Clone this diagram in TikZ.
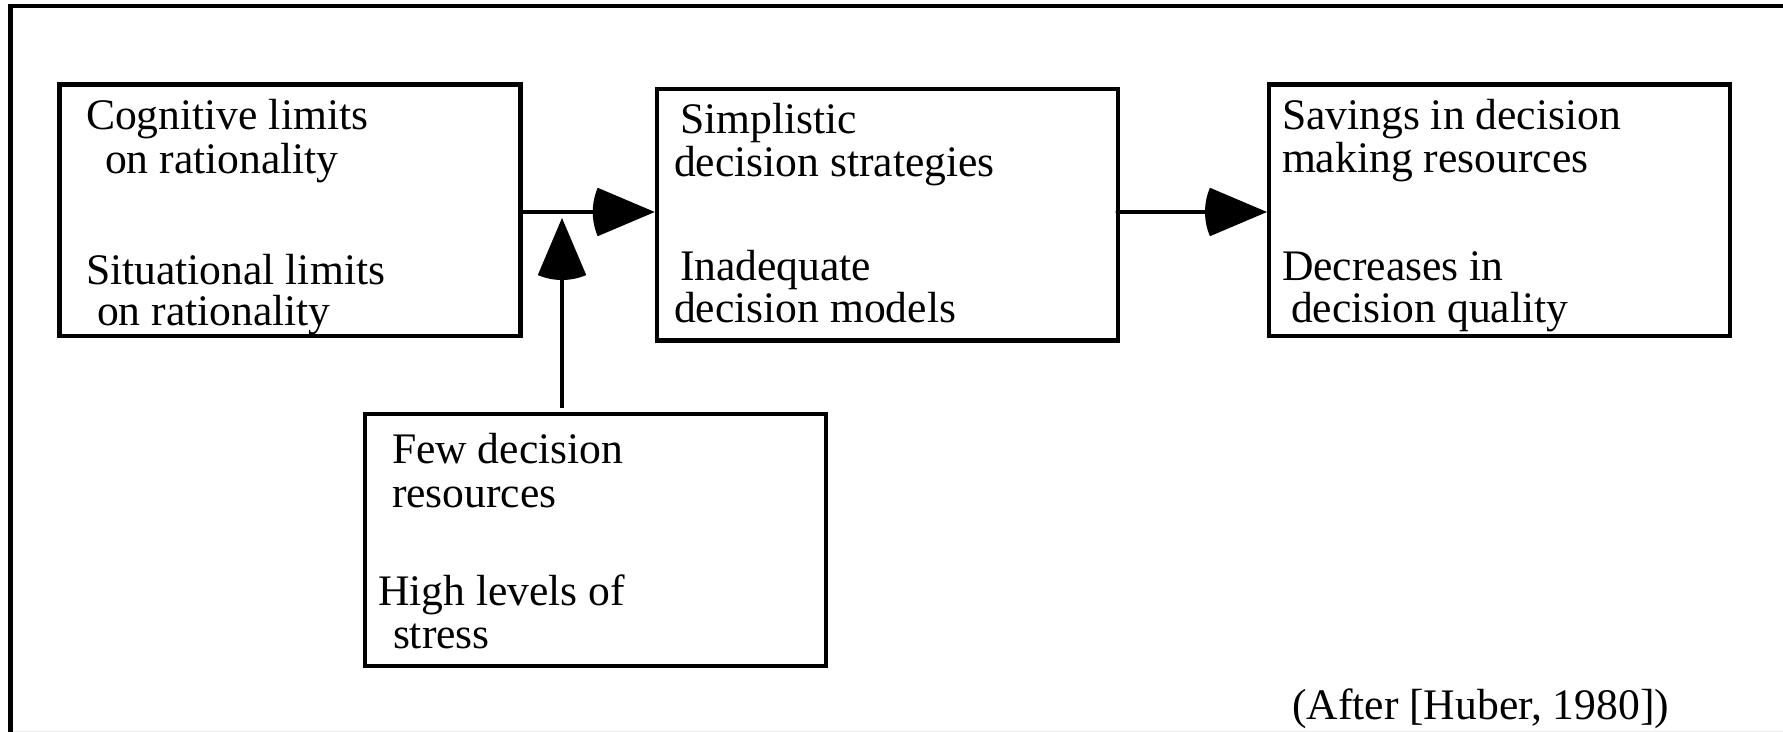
\documentclass[tikz,border=0pt]{standalone}
\usepackage{fontspec}
\setmainfont{Liberation Serif}
\usetikzlibrary{calc,arrows.meta}
\pgfdeclarearrow{
  name = Sector,
  parameters = {\the\pgfarrowlength},
  setup code = {
    \pgfarrowssettipend{0pt}
    \pgfarrowssetlineend{-0.6\pgfarrowlength}
    \pgfarrowssetbackend{-\pgfarrowlength}
    \pgfarrowssavethe\pgfarrowlength
  },
  drawing code = {
    \pgfpathmoveto{\pgfpointorigin}
    \pgfpathlineto{\pgfpointpolar{157}{\pgfarrowlength}}
    \pgfpatharc{157}{203}{\pgfarrowlength}
    \pgfpathclose
    \pgfusepathqfill
  },
  defaults = {length = 31pt}
}
\tikzset{
  box/.style={draw, line width=2.25pt, rectangle, inner sep=0pt, outer sep=0pt,
    minimum width=230.5pt, minimum height=125.75pt},
  lbl/.style={anchor=base west, inner sep=0pt, outer sep=0pt,
    font=\fontsize{21.8}{22}\selectfont},
  conn/.style={line width=2.3pt, line cap=round, -Sector},
  frameline/.style={line width=2.25pt},
}
\begin{document}
\begin{tikzpicture}[x=0.5pt,y=-0.5pt]
\useasboundingbox (0,0) rectangle (1783,732);
% outer frame (partly visible)
\draw[frameline] (10.5,740) -- (10.5,6) -- (1790,6);
\draw[black!8, line width=0.5pt] (13,731.6) -- (1790,731.6);

% boxes
\node[box] (box1) at (290,210.5) {};
\node[box] (box2) at (887.25,215) {};
\node[box] (box3) at (1499.5,210.5) {};
\node[box] (box4) at (595.5,540) {};

% texts box1
\node[lbl] (t1a) at (86,130) {Cognitive limits};
\node[lbl] (t1b) at (105,174) {on rationality};
\node[lbl] (t1c) at (86,285) {Situational limits};
\node[lbl] (t1d) at (97,326) {on rationality};
% texts box2
\node[lbl] (t2a) at (680,134) {Simplistic};
\node[lbl] (t2b) at (674,177) {decision strategies};
\node[lbl] (t2c) at (680,281) {Inadequate};
\node[lbl] (t2d) at (674,323) {decision models};
% texts box3
\node[lbl] (t3a) at (1282,130) {Savings in decision};
\node[lbl] (t3b) at (1282,173) {making resources};
\node[lbl] (t3c) at (1282,281) {Decreases in};
\node[lbl] (t3d) at (1291,323) {decision quality};
% texts box4
\node[lbl] (t4a) at (392,464) {Few decision};
\node[lbl] (t4b) at (392,508) {resources};
\node[lbl] (t4c) at (378,605) {High levels of};
\node[lbl] (t4d) at (393,648) {stress};
% caption
\node[lbl] (cap) at (1292,719) {(After [Huber, 1980])};

% connectors
\coordinate (mid) at (0,212);
\coordinate (vtip) at (562,218);
\draw[conn] (box1.east |- mid) -- ([xshift=-1pt]box2.west |- mid);
\draw[conn] (box2.east |- mid) -- ([xshift=-1pt]box3.west |- mid);
\draw[conn, line cap=butt] ([yshift=3pt]box4.north -| vtip) -- (vtip);
\end{tikzpicture}
\end{document}
